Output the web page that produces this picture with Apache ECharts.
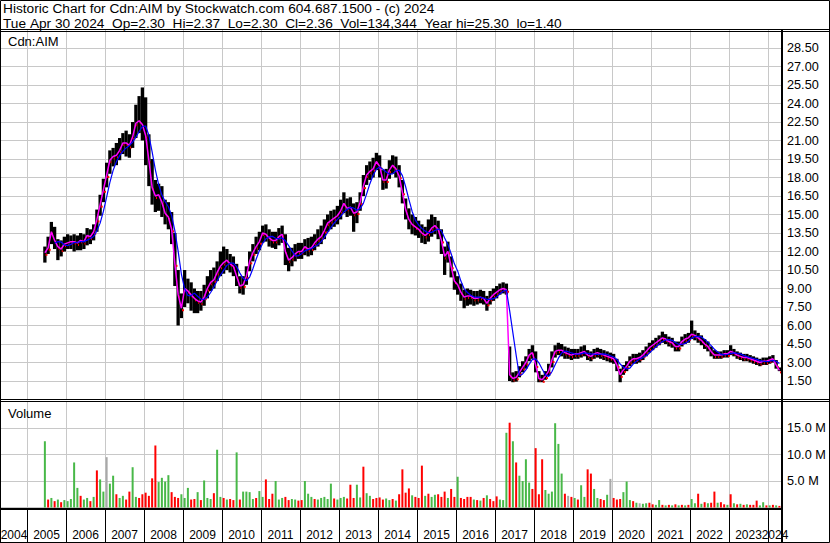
<!DOCTYPE html>
<html><head><meta charset="utf-8">
<script src="https://cdn.jsdelivr.net/npm/echarts/dist/echarts.min.js"></script>
<style>html,body{margin:0;padding:0;background:#fff}#c{width:830px;height:543px}</style>
</head><body><div id="c"></div>
<script>
// ---------- DATA (monthly) ----------
const startMonth = '2005-06';
const yearLabels = ['2004','2005','2006','2007','2008','2009','2010','2011','2012','2013','2014','2015','2016','2017','2018','2019','2020','2021','2022','2023','2024'];
const close = [
  11.9,12.3,13.6,12.9,12.4,12.2,12.6,
  12.7,12.8,12.8,12.7,12.9,12.8,13.3,13.2,13.6,14.6,15.8,17.0,
  18.2,19.4,19.7,19.8,20.2,20.8,20.8,20.6,21.3,22.4,22.6,22.3,
  21.4,19.4,17.2,16.5,16.6,16.0,15.1,14.8,13.8,11.0,8.5,7.4,
  9.0,8.8,8.5,8.2,8.0,7.9,8.3,9.0,9.5,9.7,10.3,10.8,
  11.1,11.3,11.0,10.8,10.0,9.2,9.3,10.0,11.2,11.9,12.4,12.8,
  13.5,13.4,13.1,12.9,12.9,13.2,13.4,12.0,11.3,11.5,11.8,12.0,
  12.0,12.4,12.2,12.3,12.7,13.0,13.2,13.7,14.3,14.5,14.7,14.9,
  15.3,15.9,15.5,15.6,15.1,15.2,16.0,17.3,18.2,18.5,18.7,19.3,
  18.9,17.8,17.8,18.6,19.0,18.7,18.1,16.8,15.4,14.6,14.2,14.0,
  13.8,13.5,13.3,13.5,13.9,14.1,13.8,12.9,11.6,12.0,10.8,9.6,
  9.3,8.7,8.3,8.4,8.4,8.2,8.2,8.3,8.2,7.8,8.2,8.5,
  8.7,8.9,9.0,8.9,2.0,1.7,1.8,2.2,2.6,3.0,3.6,3.8,
  2.8,1.7,1.6,1.9,2.3,3.2,3.9,4.0,4.0,3.8,3.7,3.6,
  3.7,3.7,3.8,3.9,3.6,3.5,3.7,3.8,3.7,3.6,3.5,3.4,
  3.3,2.8,2.0,2.4,2.7,3.1,3.3,3.3,3.4,3.6,3.9,4.2,
  4.4,4.6,4.8,5.0,4.9,4.7,4.6,4.3,4.3,4.7,4.9,5.0,
  5.3,5.2,5.0,4.8,4.5,4.3,3.9,3.6,3.6,3.6,3.7,3.7,
  3.9,3.8,3.6,3.5,3.4,3.4,3.3,3.2,3.1,3.0,3.1,3.1,
  3.2,3.3,2.8,2.36
];
const high = [
  12.4,13.2,14.4,14.0,13.0,12.9,13.2,
  13.4,13.3,13.4,13.3,13.5,13.4,13.9,13.8,14.2,15.4,16.6,17.9,
  19.2,20.2,20.4,20.8,21.2,21.6,21.8,21.5,22.5,23.9,24.6,25.3,
  24.5,21.5,19.5,17.8,17.5,17.3,16.2,16.0,15.2,13.5,10.5,8.6,
  10.5,9.8,9.5,9.0,8.8,8.8,9.3,10.0,10.5,10.7,11.2,12.0,
  12.4,12.2,11.8,11.6,11.0,10.0,10.0,10.8,12.0,12.6,13.2,13.6,
  14.1,14.2,13.8,13.6,13.6,13.9,14.1,13.4,12.3,12.3,12.6,12.7,
  12.7,13.0,13.1,13.2,13.4,13.8,14.1,14.6,15.0,15.3,15.4,15.7,
  16.2,16.8,16.3,16.4,15.9,16.0,16.8,18.2,19.0,19.3,19.6,20.0,
  19.8,18.6,18.7,19.4,19.8,19.7,19.0,17.8,16.3,15.5,15.0,14.8,
  14.5,14.2,14.0,14.6,15.0,14.8,14.5,13.8,12.4,12.8,11.6,10.4,
  10.0,9.4,8.9,9.0,8.9,8.8,8.8,8.9,8.8,8.4,8.8,9.0,
  9.2,9.4,9.5,9.4,4.3,2.2,2.3,2.7,3.1,3.5,4.1,4.4,
  3.9,2.3,2.0,2.3,2.9,3.9,4.4,4.6,4.5,4.3,4.2,4.1,
  4.1,4.1,4.3,4.4,4.0,3.9,4.1,4.2,4.1,4.0,3.9,3.8,
  3.7,3.3,2.5,2.8,3.1,3.5,3.7,3.7,3.8,4.0,4.3,4.6,
  4.8,5.0,5.2,5.5,5.3,5.1,5.0,4.7,4.7,5.1,5.3,5.4,
  6.4,5.6,5.4,5.2,4.9,4.7,4.3,4.0,3.9,3.9,4.0,4.0,
  4.4,4.1,3.9,3.8,3.7,3.7,3.6,3.5,3.4,3.3,3.4,3.4,
  3.5,3.6,3.2,2.6
];
const low = [
  11.1,11.8,12.6,12.2,11.3,11.6,12.0,
  12.2,12.2,12.0,12.1,12.1,12.2,12.5,12.6,12.9,13.6,14.9,16.0,
  17.2,18.3,18.9,19.0,19.4,19.9,19.7,19.6,20.4,21.2,21.6,21.0,
  19.0,17.3,15.8,15.2,15.3,14.8,14.2,13.8,12.6,9.2,6.0,6.6,
  7.5,7.8,7.2,7.0,7.0,7.2,7.6,8.2,8.8,9.0,9.6,10.0,
  10.2,10.5,10.3,10.0,9.2,8.6,8.5,9.3,10.4,11.2,11.8,12.1,
  12.7,12.8,12.4,12.3,12.2,12.5,12.7,10.9,10.4,10.8,11.2,11.4,
  11.4,11.7,11.6,11.7,12.1,12.4,12.6,13.0,13.6,13.8,14.0,14.2,
  14.6,15.1,14.8,14.9,13.6,14.3,15.3,16.5,17.4,17.8,18.0,18.6,
  18.0,17.0,17.1,17.9,18.3,18.0,17.2,15.9,14.6,13.8,13.4,13.3,
  13.1,12.7,12.6,12.8,13.2,13.4,13.0,11.8,10.1,11.1,9.9,8.9,
  8.5,8.0,7.4,7.6,7.7,7.6,7.7,7.8,7.7,7.2,7.7,8.0,
  8.2,8.5,8.6,8.5,1.5,1.4,1.45,1.8,2.2,2.5,3.1,3.3,
  2.2,1.4,1.4,1.6,1.9,2.6,3.4,3.6,3.5,3.3,3.3,3.2,
  3.3,3.3,3.4,3.5,3.2,3.1,3.3,3.4,3.3,3.2,3.1,3.0,
  2.9,2.3,1.4,2.0,2.3,2.7,2.9,2.9,3.0,3.2,3.5,3.8,
  4.0,4.2,4.4,4.6,4.5,4.3,4.2,3.9,3.9,4.3,4.5,4.6,
  4.9,4.8,4.6,4.4,4.1,3.9,3.5,3.3,3.3,3.3,3.4,3.4,
  3.6,3.5,3.3,3.2,3.1,3.1,3.0,2.9,2.8,2.7,2.8,2.8,
  2.9,3.0,2.5,2.3
];
// volume in millions (peak of the month)
const volume = [
  12.5,1.5,1.8,1.2,1.5,1.0,1.4,
  1.2,1.6,8.5,3.7,2.2,1.5,1.8,1.2,2.0,7.0,5.3,3.0,
  9.5,4.5,6.0,2.5,1.8,2.2,1.5,3.0,7.6,2.0,1.8,2.5,
  2.8,2.2,5.5,11.7,4.8,5.6,4.9,6.1,2.9,2.0,1.8,2.5,
  1.8,3.7,1.5,1.6,2.9,1.4,5.1,1.8,1.6,2.7,10.9,2.0,
  1.8,1.5,1.6,1.4,10.4,1.5,3.0,3.0,2.9,1.6,1.8,3.1,
  2.0,5.3,1.6,2.6,5.0,1.5,1.8,2.0,1.4,1.6,1.5,1.3,
  1.4,5.0,2.6,2.0,1.6,1.5,1.8,2.0,1.6,4.5,1.7,1.5,
  1.8,2.0,1.7,4.3,1.8,4.3,1.9,7.7,2.7,2.2,1.6,1.8,
  1.9,1.5,1.7,1.4,1.6,1.3,2.5,7.2,2.8,3.6,2.3,2.0,
  1.8,7.9,2.2,2.6,2.0,2.4,2.5,2.0,3.0,1.8,3.5,2.0,
  5.8,1.8,1.6,2.0,2.0,1.5,1.4,1.3,1.8,2.3,1.6,1.2,
  2.1,1.5,1.4,14.1,16.0,12.5,8.5,6.0,5.0,9.1,4.7,3.5,
  11.2,2.5,9.1,3.3,2.6,3.0,15.9,12.0,6.4,2.6,2.2,2.0,
  1.8,1.5,4.2,2.0,7.2,6.4,3.5,1.8,1.6,1.4,2.4,5.4,
  1.8,1.5,1.6,2.9,4.9,1.4,1.2,0.9,0.8,0.7,0.8,0.9,
  0.6,0.5,1.4,0.5,0.4,0.5,0.4,0.6,0.4,0.5,0.4,0.5,
  1.6,0.8,2.6,0.7,1.0,0.8,0.9,3.0,0.9,1.0,0.6,0.5,
  2.5,0.8,0.6,0.7,0.5,0.6,0.5,0.5,1.3,0.4,1.0,0.4,
  0.4,0.5,0.4,0.3
];
// g = up (green), r = down (red), n = unchanged (grey)
const volumeDirection = [
  'grgrgrg','ggggrggrgrgg','nggrggrrggrr','rrrrggggrrrg','ggrrgrgggrgg',
  'rgrrgrggggrg','grrrgggrrggr','rgggrgggggrg','ggrrrggrggrr','rrggrgrrrrgr',
  'rrgrggrrrgrr','grrrrgrgrgrr','rgggrgrggggr','rrrggggggrnr','grggrrggrrgn',
  'rrrgggrgnggr','rggrgrgrgrgr','ggrgrgrrgrrg','rgrgrgrrrggr','grgr'
].join('');
const priceTickStep = 1.5, priceMax = 30;
const volumeTickStep = 5, volumeMax = 20;
const monthsPerYear = 12;
const headerLine1 = 'Historic Chart for Cdn:AIM by Stockwatch.com 604.687.1500 - (c) 2024';
const headerLine2 = 'Tue Apr 30 2024  Op=2.30  Hi=2.37  Lo=2.30  Cl=2.36  Vol=134,344  Year hi=25.30  lo=1.40';

// ---------- BUILD ----------
const FONT = '"Liberation Sans", Arial, sans-serif';
const GRID_GREY = '#c8c8c8';
const nb = s => s.replace(/ /g, '\u00a0');
// x = months since Jan 2004; axis starts at 0 (a year boundary) so yearly ticks fall on Jan 1st.
// The visible window starts at month 4.0 (left edge of the picture), so the grid starts a little off-canvas.
const xAxisMin = 0, visibleStart = 4.0, xMax = 244.3;
const plotLeftPx = 1, plotRightPx = 782;
const pxPerMonth = (plotRightPx - plotLeftPx) / (xMax - visibleStart);
const gridLeft = plotLeftPx - (visibleStart - xAxisMin) * pxPerMonth;

const [sy, sm] = startMonth.split('-').map(Number);
const firstIdx = (sy - 2004) * 12 + (sm - 1);
const xs = close.map((_, i) => firstIdx + i + 0.5);

function movingAverage(arr, n) {
  return arr.map((v, i) => i < n - 1 ? null : arr.slice(i - n + 1, i + 1).reduce((a, b) => a + b, 0) / n);
}
const slowMA = movingAverage(close, 4);

const barData = close.map((c, i) => [xs[i], low[i], high[i], c]);
const fastLine = close.map((c, i) => [xs[i], c]);
const slowLine = slowMA.map((v, i) => [xs[i], v]).filter(d => d[1] !== null);
const volColors = { g: '#48b848', r: '#ff0000', n: '#a8a8a8' };
const volData = volume.map((v, i) => [xs[i], v]);
const yearItems = yearLabels.map((y, i) => [i, 0]);

const gridBase = { left: gridLeft, right: 830 - plotRightPx, containLabel: false, outerBoundsMode: 'none' };
const xAxisPanel = {
  type: 'value', min: xAxisMin, max: xMax, interval: monthsPerYear, show: true,
  axisLine: { show: false }, axisTick: { show: false }, axisLabel: { show: false },
  splitLine: { show: true, lineStyle: { color: GRID_GREY, width: 1 } }
};

const option = {
  animation: false,
  backgroundColor: '#fff',
  grid: [
    Object.assign({ top: 29.5, height: 370 }, gridBase),
    Object.assign({ top: 401.5, height: 106 }, gridBase),
    Object.assign({ top: 509, height: 34 }, gridBase)
  ],
  xAxis: [
    Object.assign({ gridIndex: 0 }, xAxisPanel),
    Object.assign({ gridIndex: 1 }, xAxisPanel),
    { gridIndex: 2, type: 'value', min: xAxisMin, max: xMax, show: false }
  ],
  yAxis: [
    { gridIndex: 0, type: 'value', position: 'right', min: 0, max: priceMax, interval: priceTickStep,
      axisLine: { show: false }, axisTick: { show: false },
      splitLine: { show: true, lineStyle: { color: GRID_GREY, width: 1 } },
      axisLabel: { show: true, margin: 5, color: '#000', fontFamily: FONT, fontSize: 12.7,
        formatter: v => (v > 0 && v < priceMax) ? v.toFixed(2) : '' } },
    { gridIndex: 1, type: 'value', position: 'right', min: 0, max: volumeMax, interval: volumeTickStep,
      axisLine: { show: false }, axisTick: { show: false },
      splitLine: { show: true, lineStyle: { color: GRID_GREY, width: 1 } },
      axisLabel: { show: true, margin: 5, color: '#000', fontFamily: FONT, fontSize: 12.7,
        formatter: v => (v > 0 && v < volumeMax) ? v.toFixed(1) + ' M' : '' } },
    { gridIndex: 2, type: 'value', min: 0, max: 1, show: false }
  ],
  series: [
    { // year strip labels and dividers
      type: 'custom', xAxisIndex: 2, yAxisIndex: 2, z: 1, silent: true,
      data: yearItems,
      renderItem(params, api) {
        const cs = params.coordSys;
        const i = api.value(0);
        const yr = +yearLabels[i];
        const a = api.coord([(yr - 2004) * 12, 0])[0];
        const b = api.coord([(yr - 2003) * 12, 0])[0];
        const l = Math.max(a, plotLeftPx), r = Math.min(b, cs.x + cs.width);
        const children = [{ type: 'text', style: { text: yearLabels[i], x: (l + r) / 2, y: cs.y + 25.5,
          fill: '#000', font: '12px ' + FONT, align: 'center', verticalAlign: 'middle',
          textAlign: 'center', textVerticalAlign: 'middle' } }];
        if (b < cs.x + cs.width - 1) {
          const bx = Math.round(b) + 0.5;
          children.push({ type: 'line', shape: { x1: bx, y1: cs.y, x2: bx, y2: cs.y + cs.height },
            style: { stroke: '#000', lineWidth: 1 } });
        }
        return { type: 'group', children };
      }
    },
    { // price bars (high-low) with red close tick
      type: 'custom', xAxisIndex: 0, yAxisIndex: 0, z: 3, silent: true,
      data: barData, encode: { x: 0, y: [1, 2] },
      renderItem(params, api) {
        const x = api.value(0);
        const pLo = api.coord([x, api.value(1)]);
        const pHi = api.coord([x, api.value(2)]);
        const pCl = api.coord([x, api.value(3)]);
        const w = 3.3;
        return { type: 'group', children: [
          { type: 'rect', shape: { x: pHi[0] - w / 2, y: pHi[1], width: w, height: Math.max(1, pLo[1] - pHi[1]) },
            style: { fill: '#000' } },
          { type: 'rect', shape: { x: pCl[0] + 0.6, y: pCl[1] + 1, width: 2, height: 2 },
            style: { fill: '#ff0000' } }
        ] };
      }
    },
    { type: 'line', xAxisIndex: 0, yAxisIndex: 0, z: 4, data: fastLine, showSymbol: false, silent: true,
      lineStyle: { color: '#ff00ff', width: 1.5 } },
    { type: 'line', xAxisIndex: 0, yAxisIndex: 0, z: 5, data: slowLine, showSymbol: false, silent: true,
      lineStyle: { color: '#0000ff', width: 1.2 } },
    { // volume bars
      type: 'custom', xAxisIndex: 1, yAxisIndex: 1, z: 3, silent: true,
      data: volData, encode: { x: 0, y: 1 },
      renderItem(params, api) {
        const x = api.value(0);
        const p0 = api.coord([x, 0]);
        const p1 = api.coord([x, api.value(1)]);
        return { type: 'rect', shape: { x: p0[0] - 1, y: p1[1], width: 2, height: Math.max(1, p0[1] - p1[1]) },
          style: { fill: volColors[volumeDirection[params.dataIndex]] } };
      }
    }
  ],
  graphic: [
    { type: 'rect', z: 100, silent: true, shape: { x: 0.5, y: 0.5, width: 829, height: 542 },
      style: { fill: 'none', stroke: '#000', lineWidth: 1 } },
    { type: 'rect', z: 99, silent: true, shape: { x: 0, y: 509, width: 1, height: 34 }, style: { fill: '#000' } },
    { type: 'line', z: 100, silent: true, shape: { x1: 0, y1: 29.5, x2: 830, y2: 29.5 }, style: { stroke: '#000', lineWidth: 1 } },
    { type: 'line', z: 100, silent: true, shape: { x1: 0, y1: 31.5, x2: 830, y2: 31.5 }, style: { stroke: '#000', lineWidth: 1 } },
    { type: 'line', z: 100, silent: true, shape: { x1: 0, y1: 399.5, x2: 830, y2: 399.5 }, style: { stroke: '#000', lineWidth: 1 } },
    { type: 'line', z: 100, silent: true, shape: { x1: 0, y1: 401.5, x2: 830, y2: 401.5 }, style: { stroke: '#000', lineWidth: 1 } },
    { type: 'line', z: 100, silent: true, shape: { x1: 0, y1: 509, x2: 782, y2: 509 }, style: { stroke: '#000', lineWidth: 2 } },
    { type: 'line', z: 100, silent: true, shape: { x1: 782, y1: 30, x2: 782, y2: 543 }, style: { stroke: '#000', lineWidth: 2 } },
    { type: 'text', z: 100, silent: true, style: { x: 3, y: 8.4, verticalAlign: 'middle', textVerticalAlign: 'middle',
      text: nb(headerLine1), fill: '#000', font: '13.7px ' + FONT } },
    { type: 'text', z: 100, silent: true, style: { x: 3, y: 23.9, verticalAlign: 'middle', textVerticalAlign: 'middle',
      text: nb(headerLine2), fill: '#000', font: '13.7px ' + FONT } },
    { type: 'text', z: 100, silent: true, style: { x: 8, y: 41.5, verticalAlign: 'middle', textVerticalAlign: 'middle',
      text: 'Cdn:AIM', fill: '#000', font: '13px ' + FONT } },
    { type: 'text', z: 100, silent: true, style: { x: 8, y: 413, verticalAlign: 'middle', textVerticalAlign: 'middle',
      text: 'Volume', fill: '#000', font: '13px ' + FONT } }
  ]
};

const chart = echarts.init(document.getElementById('c'), null, { renderer: 'svg', width: 830, height: 543 });
chart.setOption(option);
</script>
</body></html>
